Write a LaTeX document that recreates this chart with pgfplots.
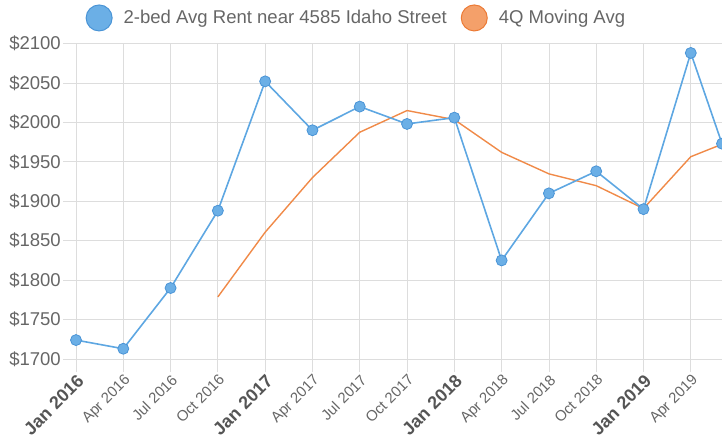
\documentclass[border=0pt]{standalone}
\usepackage{pgfplots}
\pgfplotsset{compat=1.18}
\usepackage{fontspec}
\setmainfont{Liberation Sans}
\definecolor{blueL}{HTML}{5EA7E2}
\definecolor{blueF}{HTML}{6BAFE6}
\definecolor{blueD}{HTML}{4A94D6}
\definecolor{orangeL}{HTML}{F08A48}
\definecolor{orangeF}{HTML}{F4A06A}
\definecolor{orangeD}{HTML}{EC7A35}
\definecolor{txt}{HTML}{666666}
\definecolor{txtb}{HTML}{555555}
\definecolor{grd}{HTML}{DDDDDD}
\newcommand{\bl}[1]{{\fontsize{18}{18}\selectfont\bfseries\color{txtb}#1}}
\begin{document}
\begin{tikzpicture}
\useasboundingbox (-76bp,-84bp) rectangle (646bp,359bp);
\begin{axis}[
  at={(0,0)}, anchor=south west,
  scale only axis, width=646bp, height=315.5bp,
  xmin=0, xmax=13.66, ymin=1700, ymax=2100,
  clip=false,
  axis line style={draw=none},
  grid=major, grid style={grd, line width=0.8bp},
  major tick style={grd, line width=0.8bp},
  tick align=outside, major tick length=13bp,
  tick pos=left,
  xtick={0,...,13},
  xticklabels={\bl{Jan 2016},Apr 2016,Jul 2016,Oct 2016,\bl{Jan 2017},Apr 2017,Jul 2017,Oct 2017,\bl{Jan 2018},Apr 2018,Jul 2018,Oct 2018,\bl{Jan 2019},Apr 2019},
  xticklabel style={rotate=45, anchor=north east, font=\fontsize{15}{15}\selectfont, text=txt, inner sep=1bp},
  ytick={1700,1750,...,2100},
  yticklabel={\$\pgfmathprintnumber[assume math mode=true, 1000 sep={}, fixed, precision=0]{\tick}},
  yticklabel style={font=\fontsize{18.6}{18.6}\selectfont, text=txt, inner sep=2bp},
  legend columns=2,
  legend cell align=left,
  legend style={draw=none, fill=none, at={(0.434,1.081)}, anchor=center,
    font=\fontsize{18.6}{18.6}\selectfont, text=txt,
    /tikz/every odd column/.append style={column sep=9bp},
    /tikz/every even column/.append style={column sep=12bp}},
]
\addplot[orangeL, line width=1.4bp, forget plot] coordinates {
 (3,1778.75) (4,1860.75) (5,1930) (6,1987.5) (7,2015) (8,2003.5) (9,1962) (10,1934.75) (11,1919.75) (12,1890.75) (13,1956.5) (13.66,1972.25)
};
\addplot[blueL, line width=1.6bp, mark=*, mark size=5.5bp, mark options={fill=blueF, draw=blueD, line width=0.8bp}, forget plot] coordinates {
 (0,1724) (1,1713) (2,1790) (3,1888) (4,2052) (5,1990) (6,2020) (7,1998) (8,2006) (9,1825) (10,1910) (11,1938) (12,1890) (13,2088) (13.66,1973)
};
\addlegendimage{legend image code/.code={\filldraw[fill=blueF, draw=blueD, line width=1bp] (0bp,0bp) circle (13bp);}}
\addlegendentry{2-bed Avg Rent near 4585 Idaho Street}
\addlegendimage{legend image code/.code={\filldraw[fill=orangeF, draw=orangeD, line width=1bp] (0bp,0bp) circle (13bp);}}
\addlegendentry{4Q Moving Avg}
\end{axis}
\end{tikzpicture}
\end{document}
